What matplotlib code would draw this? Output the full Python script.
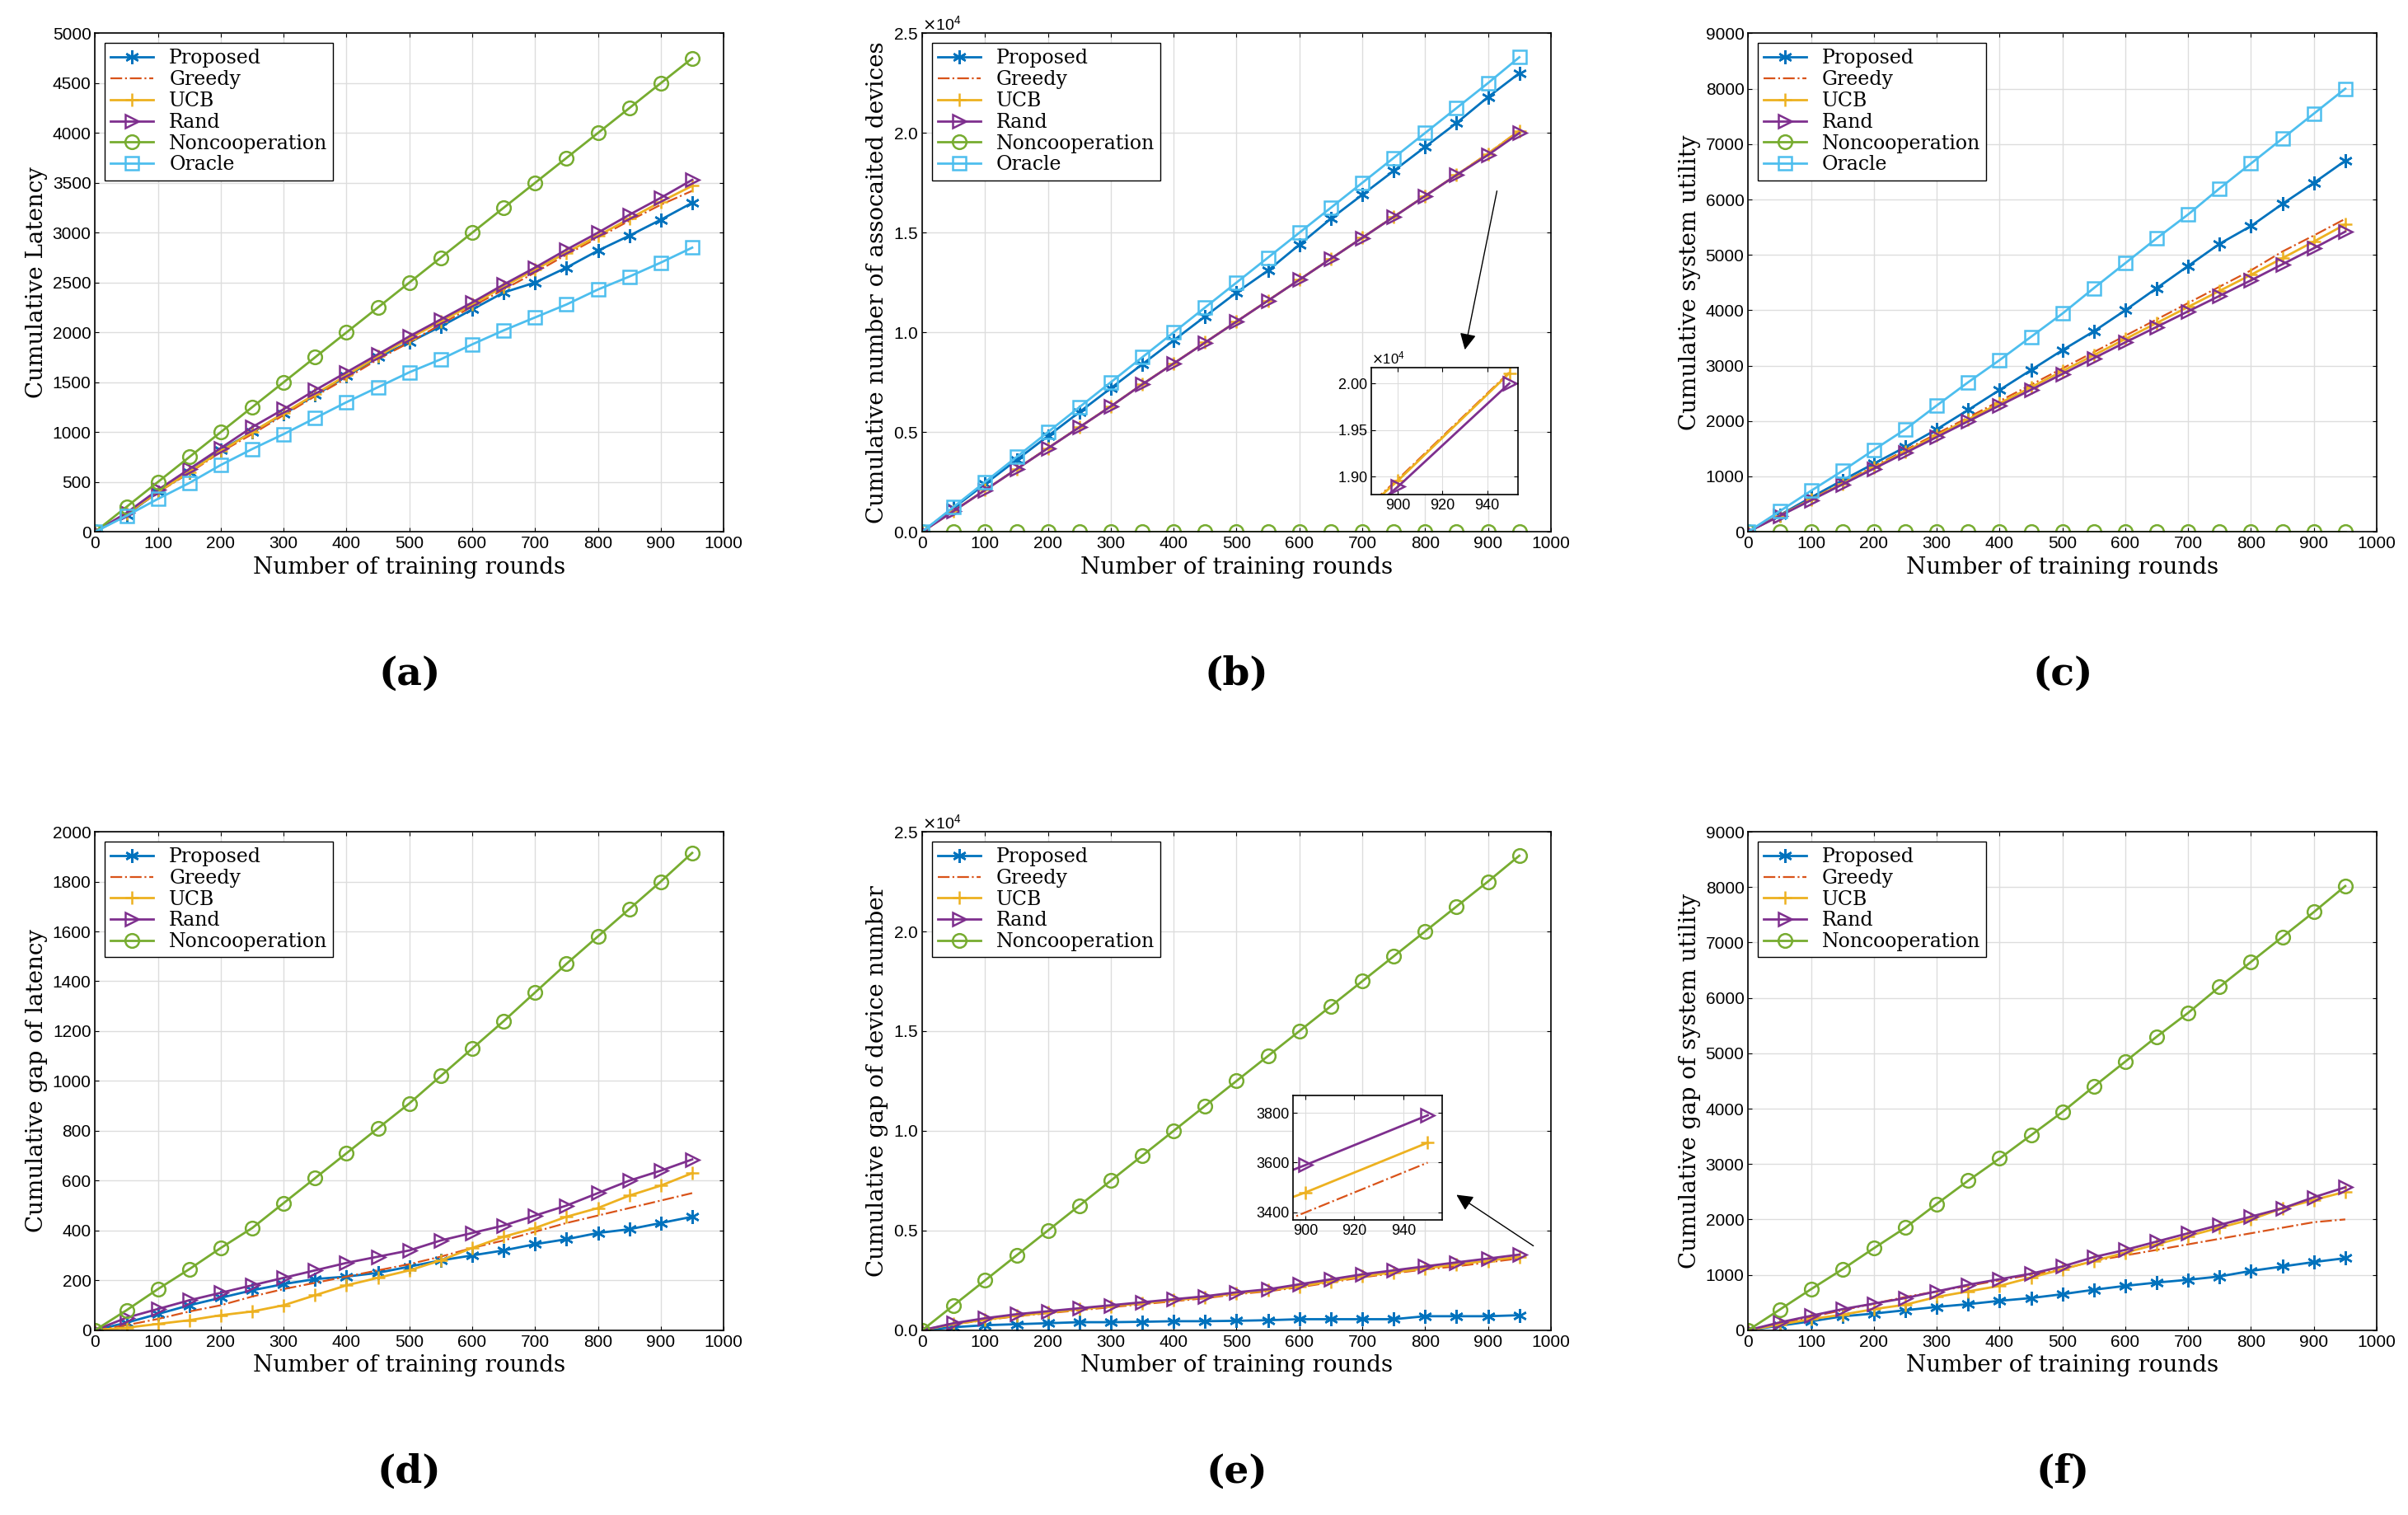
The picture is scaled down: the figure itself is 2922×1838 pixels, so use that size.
import numpy as np
import matplotlib
matplotlib.use("Agg")
import matplotlib.pyplot as plt

plt.rcParams.update({"font.family": "Liberation Sans", "font.size": 15,
                     "axes.linewidth": 1.2, "mathtext.fontset": "dejavusans"})

rounds = [0, 50, 100, 150, 200, 250, 300, 350, 400, 450, 500, 550, 600, 650, 700, 750, 800, 850, 900, 950]

# (a) cumulative latency
a_prop = [0, 170, 400, 600, 820, 1000, 1180, 1370, 1560, 1750, 1900, 2060, 2230, 2400, 2500, 2650, 2820, 2970, 3130, 3300]
a_greedy = [0, 175, 395, 590, 800, 980, 1170, 1360, 1540, 1730, 1900, 2080, 2260, 2430, 2600, 2780, 2950, 3120, 3280, 3420]
a_ucb = [0, 180, 400, 600, 810, 1000, 1190, 1380, 1570, 1760, 1940, 2110, 2280, 2460, 2630, 2800, 2970, 3140, 3310, 3470]
a_rand = [0, 190, 420, 630, 840, 1050, 1230, 1420, 1600, 1780, 1960, 2130, 2300, 2480, 2650, 2830, 3000, 3180, 3350, 3530]
a_nonco = [0, 250, 500, 750, 1000, 1250, 1500, 1750, 2000, 2250, 2500, 2750, 3000, 3250, 3500, 3750, 4000, 4250, 4500, 4750]
a_oracle = [0, 160, 330, 490, 670, 830, 980, 1140, 1300, 1450, 1600, 1730, 1880, 2020, 2150, 2280, 2430, 2560, 2700, 2850]

# (b) cumulative associated devices
b_prop = [0, 1200, 2400, 3600, 4800, 6000, 7200, 8400, 9600, 10800, 12000, 13100, 14400, 15700, 16900, 18100, 19300, 20500, 21800, 23000]
b_greedy = [0, 1050, 2100, 3150, 4200, 5250, 6300, 7400, 8450, 9500, 10550, 11600, 12650, 13700, 14750, 15800, 16850, 17900, 18975, 20120]
b_ucb = [0, 1045, 2095, 3145, 4195, 5245, 6295, 7395, 8445, 9495, 10545, 11595, 12645, 13695, 14745, 15795, 16845, 17895, 18960, 20110]
b_rand = [0, 1040, 2090, 3140, 4190, 5240, 6290, 7390, 8440, 9490, 10540, 11590, 12640, 13690, 14740, 15790, 16840, 17890, 18895, 20000]
b_nonco = [0] * 20
b_oracle = [0, 1250, 2500, 3750, 5000, 6250, 7500, 8750, 10000, 11250, 12500, 13750, 15000, 16250, 17500, 18750, 20000, 21250, 22500, 23800]

# (c) cumulative system utility
c_prop = [0, 300, 620, 930, 1230, 1530, 1850, 2200, 2560, 2920, 3280, 3620, 4000, 4400, 4800, 5200, 5520, 5920, 6300, 6700]
c_greedy = [0, 295, 590, 885, 1180, 1475, 1770, 2065, 2360, 2655, 2950, 3245, 3540, 3835, 4130, 4425, 4720, 5060, 5350, 5650]
c_ucb = [0, 290, 580, 870, 1160, 1450, 1740, 2030, 2320, 2610, 2900, 3190, 3480, 3770, 4060, 4350, 4640, 4940, 5240, 5550]
c_rand = [0, 285, 570, 855, 1140, 1425, 1710, 1995, 2280, 2565, 2850, 3135, 3420, 3700, 3980, 4260, 4540, 4830, 5120, 5420]
c_nonco = [0] * 20
c_oracle = [0, 370, 740, 1100, 1480, 1850, 2280, 2700, 3100, 3520, 3940, 4400, 4850, 5300, 5730, 6200, 6650, 7100, 7550, 8000]

# (d) cumulative gap of latency
d_prop = [0, 30, 65, 100, 130, 160, 185, 205, 215, 230, 255, 280, 300, 320, 345, 365, 390, 405, 430, 455]
d_greedy = [0, 20, 45, 75, 100, 135, 165, 190, 215, 240, 265, 295, 330, 360, 395, 430, 460, 490, 520, 550]
d_ucb = [0, 10, 25, 40, 60, 75, 100, 140, 180, 210, 240, 280, 330, 375, 410, 455, 490, 540, 580, 630]
d_rand = [0, 50, 85, 120, 150, 180, 210, 240, 270, 295, 320, 360, 390, 420, 460, 500, 550, 600, 640, 685]
d_nonco = [0, 80, 165, 245, 330, 410, 510, 610, 710, 810, 910, 1020, 1130, 1240, 1355, 1470, 1580, 1690, 1800, 1915]

# (e) cumulative gap of device number
e_prop = [0, 150, 250, 300, 350, 400, 400, 420, 450, 450, 470, 500, 550, 550, 550, 550, 700, 700, 700, 750]
e_greedy = [0, 300, 500, 700, 850, 1000, 1150, 1300, 1450, 1600, 1800, 1950, 2150, 2400, 2650, 2850, 3050, 3200, 3400, 3600]
e_ucb = [0, 310, 520, 730, 880, 1050, 1200, 1350, 1500, 1650, 1850, 2000, 2200, 2450, 2700, 2900, 3100, 3300, 3480, 3680]
e_rand = [0, 350, 600, 800, 950, 1100, 1250, 1400, 1550, 1700, 1900, 2050, 2300, 2550, 2800, 3000, 3200, 3400, 3590, 3790]
e_nonco = [0, 1250, 2500, 3750, 5000, 6250, 7500, 8750, 10000, 11250, 12500, 13750, 15000, 16250, 17500, 18750, 20000, 21250, 22500, 23800]

# (f) cumulative gap of system utility
f_prop = [0, 80, 160, 250, 300, 360, 420, 470, 530, 580, 650, 730, 800, 860, 910, 970, 1070, 1150, 1230, 1300]
f_greedy = [0, 120, 240, 360, 480, 600, 700, 800, 900, 1000, 1100, 1250, 1350, 1450, 1550, 1650, 1750, 1850, 1950, 2000]
f_ucb = [0, 100, 200, 280, 380, 460, 600, 700, 800, 950, 1100, 1250, 1400, 1550, 1700, 1850, 2000, 2200, 2350, 2500]
f_rand = [0, 140, 260, 380, 480, 580, 700, 820, 920, 1020, 1150, 1320, 1450, 1600, 1750, 1900, 2050, 2200, 2400, 2580]
f_nonco = [0, 370, 740, 1100, 1480, 1850, 2280, 2700, 3100, 3520, 3940, 4400, 4850, 5300, 5730, 6200, 6650, 7100, 7550, 8020]

ASTERISK = (6, 2, 0)
STYLE = {
    "Proposed": dict(color="#0072BD", marker=ASTERISK, ls="-"),
    "Greedy": dict(color="#D95319", marker=None, ls="-."),
    "UCB": dict(color="#EDB120", marker="+", ls="-"),
    "Rand": dict(color="#7E2F8E", marker=">", ls="-"),
    "Noncooperation": dict(color="#77AC30", marker="o", ls="-"),
    "Oracle": dict(color="#4DBEEE", marker="s", ls="-"),
}
SERIF = "DejaVu Serif"


def plot_series(ax, name, vals, ms=12):
    st = STYLE[name]
    lw = 1.6 if name == "Greedy" else 2
    ax.plot(rounds, vals, color=st["color"], ls=st["ls"], marker=st["marker"],
            ms=ms, mfc="none", mew=1.8, lw=lw, label=name)


def style(ax, ylabel, ymax, ystep, label, sci=False):
    ax.set_xlim(0, 1000)
    ax.set_ylim(0, ymax)
    ax.set_xticks(range(0, 1001, 100))
    ax.set_yticks(np.arange(0, ymax + 1, ystep))
    ax.grid(True, color="#dddddd", lw=1)
    ax.tick_params(direction="in", top=True, right=True, labelsize=15)
    if sci:
        ax.ticklabel_format(axis="y", style="sci", scilimits=(4, 4), useMathText=True)
        ax.yaxis.get_offset_text().set_fontsize(14)
    ax.set_xlabel("Number of training rounds", family=SERIF, fontsize=20)
    ax.set_ylabel(ylabel, family=SERIF, fontsize=20)
    ax.legend(loc="upper left", prop={"family": SERIF, "size": 17}, fancybox=False,
              edgecolor="black", framealpha=1, handlelength=2.2, borderpad=0.3,
              labelspacing=0.12)
    ax.text(0.5, -0.285, label, transform=ax.transAxes, ha="center", va="center",
            family=SERIF, fontsize=34, fontweight="bold")


fig = plt.figure(figsize=(29.22, 18.38), dpi=100)
lefts = [0.0395, 0.383, 0.726]
w = 0.261
rows = [0.649, 0.122]
h = 0.329

panels = [
    (lefts[0], rows[0], [("Proposed", a_prop), ("Greedy", a_greedy), ("UCB", a_ucb), ("Rand", a_rand),
                         ("Noncooperation", a_nonco), ("Oracle", a_oracle)],
     "Cumulative Latency", 5000, 500, "(a)", False),
    (lefts[1], rows[0], [("Proposed", b_prop), ("Greedy", b_greedy), ("UCB", b_ucb), ("Rand", b_rand),
                         ("Noncooperation", b_nonco), ("Oracle", b_oracle)],
     "Cumulative number of assocaited devices", 25000, 5000, "(b)", True),
    (lefts[2], rows[0], [("Proposed", c_prop), ("Greedy", c_greedy), ("UCB", c_ucb), ("Rand", c_rand),
                         ("Noncooperation", c_nonco), ("Oracle", c_oracle)],
     "Cumulative system utility", 9000, 1000, "(c)", False),
    (lefts[0], rows[1], [("Proposed", d_prop), ("Greedy", d_greedy), ("UCB", d_ucb), ("Rand", d_rand),
                         ("Noncooperation", d_nonco)],
     "Cumulative gap of latency", 2000, 200, "(d)", False),
    (lefts[1], rows[1], [("Proposed", e_prop), ("Greedy", e_greedy), ("UCB", e_ucb), ("Rand", e_rand),
                         ("Noncooperation", e_nonco)],
     "Cumulative gap of device number", 25000, 5000, "(e)", True),
    (lefts[2], rows[1], [("Proposed", f_prop), ("Greedy", f_greedy), ("UCB", f_ucb), ("Rand", f_rand),
                         ("Noncooperation", f_nonco)],
     "Cumulative gap of system utility", 9000, 1000, "(f)", False),
]
for left, bottom, series, ylabel, ymax, ystep, label, sci in panels:
    ax = fig.add_axes([left, bottom, w, h])
    for name, vals in series:
        plot_series(ax, name, vals)
    style(ax, ylabel, ymax, ystep, label, sci)

# inset (b)
ins_b = fig.add_axes([0.5695, 0.6736, 0.061, 0.0838])
for name, vals in [("Greedy", b_greedy), ("UCB", b_ucb), ("Rand", b_rand)]:
    plot_series(ins_b, name, vals)
ins_b.set_xlim(888, 954)
ins_b.set_ylim(18810, 20170)
ins_b.set_xticks([900, 920, 940])
ins_b.set_yticks([19000, 19500, 20000])
ins_b.ticklabel_format(axis="y", style="sci", scilimits=(4, 4), useMathText=True)
ins_b.yaxis.get_offset_text().set_fontsize(12)
ins_b.grid(True, color="#dddddd")
ins_b.tick_params(direction="in", top=True, right=True, labelsize=13)
fig.add_artist(matplotlib.patches.FancyArrowPatch(
    (1817 / 2922, 1 - 229 / 1838), (1777 / 2922, 1 - 427 / 1838),
    transform=fig.transFigure, arrowstyle="-|>", mutation_scale=30, lw=1, color="black"))

# inset (e)
ins_e = fig.add_axes([0.537, 0.1948, 0.062, 0.0822])
for name, vals in [("Greedy", e_greedy), ("UCB", e_ucb), ("Rand", e_rand)]:
    plot_series(ins_e, name, vals)
ins_e.set_xlim(895, 956)
ins_e.set_ylim(3370, 3870)
ins_e.set_xticks([900, 920, 940])
ins_e.set_yticks([3400, 3600, 3800])
ins_e.grid(True, color="#dddddd")
ins_e.tick_params(direction="in", top=True, right=True, labelsize=13)
fig.add_artist(matplotlib.patches.FancyArrowPatch(
    (1863 / 2922, 1 - 1513 / 1838), (1765 / 2922, 1 - 1448 / 1838),
    transform=fig.transFigure, arrowstyle="-|>", mutation_scale=30, lw=1, color="black"))

fig.savefig("out.png", dpi=100)
